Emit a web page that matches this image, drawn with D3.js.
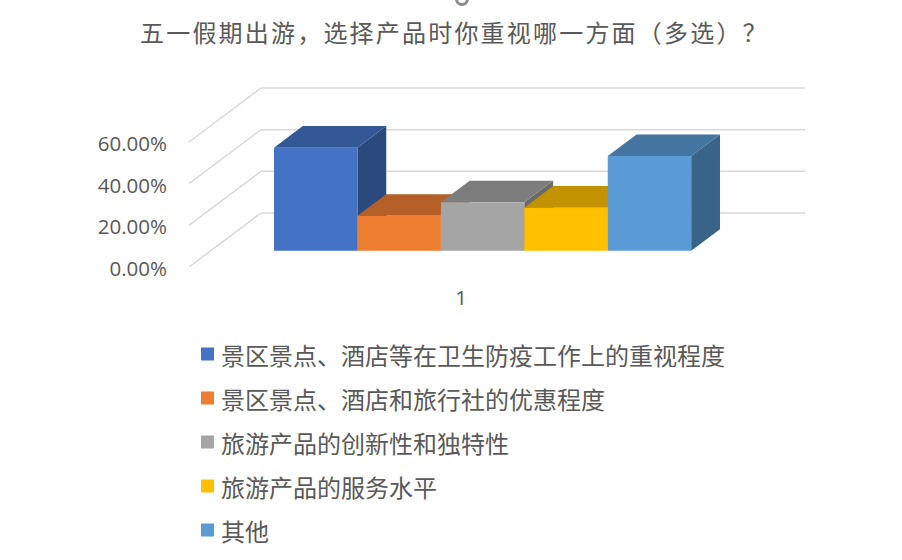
<!DOCTYPE html>
<html>
<head>
<meta charset="utf-8">
<script src="https://cdn.jsdelivr.net/npm/d3@7"></script>
<style>
  body { margin: 0; background: #fff; }
  text { fill: #595959; }
</style>
</head>
<body>
<div id="chart"></div>
<script>
const titleText = "五一假期出游，选择产品时你重视哪一方面（多选）？";
const seriesNames = [
    "景区景点、酒店等在卫生防疫工作上的重视程度",
    "景区景点、酒店和旅行社的优惠程度",
    "旅游产品的创新性和独特性",
    "旅游产品的服务水平",
    "其他"
];
const seriesValues = [0.495, 0.168, 0.233, 0.207, 0.455];
const category = "1";
const yTicks = [0, 0.2, 0.4, 0.6];
const frontColors = ["#4472C4", "#ED7D31", "#A5A5A5", "#FFC000", "#5B9BD5"];

const W = 902, H = 560;
const svg = d3.select("#chart").append("svg")
    .attr("width", W)
    .attr("height", H);

// oblique 3d: front floor edge x range, depth offset
const floorX = [189, 733];
const depth = { dx: 72, dy: -54 };

const y = d3.scaleLinear().domain([0, 0.6]).range([267, 142]);
const x = d3.scaleBand()
    .domain(seriesNames)
    .range(floorX)
    .paddingInner(0)
    .paddingOuter(0.76);

const proj = (xf, v, z) => [xf + z * depth.dx, y(v) + z * depth.dy];
const poly = pts => "M" + pts.map(p => p.join(",")).join("L") + "Z";

// selection handle stub at top
svg.append("circle")
   .attr("cx", 462).attr("cy", -1).attr("r", 5.5)
   .attr("fill", "#fff").attr("stroke", "#8c8c8c").attr("stroke-width", 3);

// title
svg.append("text")
   .attr("x", 140)
   .attr("y", 31)
   .attr("dominant-baseline", "central")
   .attr("font-family", "'Noto Sans CJK SC', sans-serif")
   .attr("font-size", 24)
   .attr("letter-spacing", "2.2px")
   .text(titleText);

// walls: back gridlines + side diagonals
const grid = svg.append("g")
    .attr("stroke", "#d9d9d9")
    .attr("stroke-width", 1.5)
    .attr("fill", "none");

yTicks.forEach(t => {
    grid.append("path").attr("d", "M" + proj(floorX[0], t, 1) + "L" + proj(floorX[1], t, 1));
    grid.append("path").attr("d", "M" + proj(floorX[0], t, 0) + "L" + proj(floorX[0], t, 1));
});

// value axis labels
svg.append("g")
   .selectAll("text")
   .data(yTicks)
   .join("text")
   .attr("x", 167)
   .attr("y", d => y(d) + 1)
   .attr("text-anchor", "end")
   .attr("dominant-baseline", "central")
   .attr("font-family", "'Open Sans', sans-serif")
   .attr("font-size", 20.5)
   .text(d => d3.format(".2%")(d));

// category label
svg.append("text")
   .attr("x", (floorX[0] + floorX[1]) / 2)
   .attr("y", 297)
   .attr("text-anchor", "middle")
   .attr("dominant-baseline", "central")
   .attr("font-family", "'Open Sans', sans-serif")
   .attr("font-size", 20.5)
   .text(category);

// bars, drawn left to right: side, top, front
const zf = 0.3, zb = 0.7;
const bars = svg.append("g");
seriesNames.forEach((name, i) => {
    const x0 = x(name), x1 = x(name) + x.bandwidth();
    const v = seriesValues[i];
    const c = d3.color(frontColors[i]);
    const g = bars.append("g");
    g.append("path")
     .attr("d", poly([proj(x1, 0, zf), proj(x1, 0, zb), proj(x1, v, zb), proj(x1, v, zf)]))
     .attr("fill", c.darker(1.25));
    g.append("path")
     .attr("d", poly([proj(x0, v, zf), proj(x1, v, zf), proj(x1, v, zb), proj(x0, v, zb)]))
     .attr("fill", c.darker(0.77));
    g.append("path")
     .attr("d", poly([proj(x0, 0, zf), proj(x1, 0, zf), proj(x1, v, zf), proj(x0, v, zf)]))
     .attr("fill", c);
});

// legend
const legend = svg.append("g")
    .selectAll("g")
    .data(seriesNames)
    .join("g")
    .attr("transform", (d, i) => `translate(201,${354 + i * 44})`);

legend.append("rect")
      .attr("x", 0).attr("y", -6.5)
      .attr("width", 13).attr("height", 13)
      .attr("fill", (d, i) => frontColors[i]);

legend.append("text")
      .attr("x", 20)
      .attr("y", 0)
      .attr("dominant-baseline", "central")
      .attr("font-family", "'Noto Sans CJK SC', sans-serif")
      .attr("font-size", 24)
      .text(d => d);
</script>
</body>
</html>
